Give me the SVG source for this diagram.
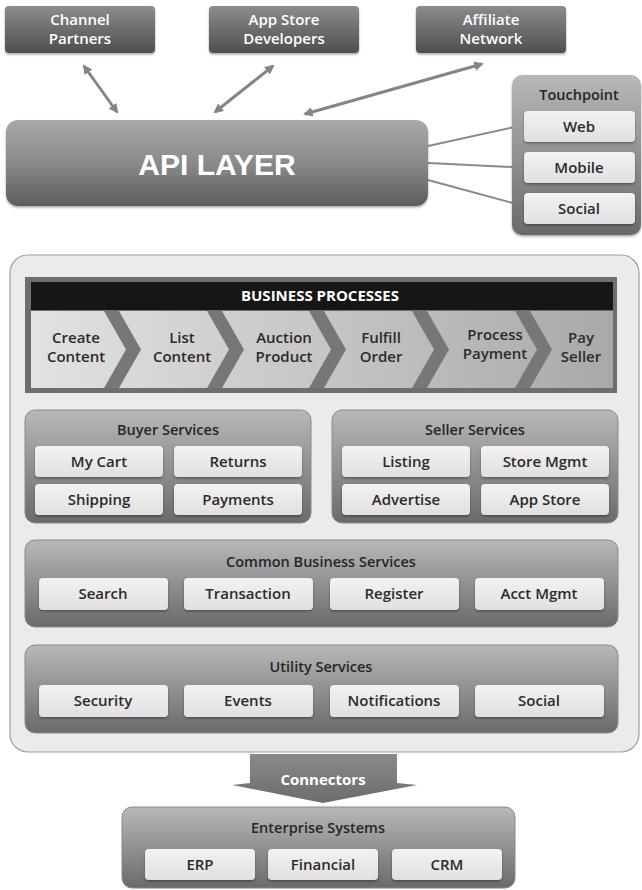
<svg xmlns="http://www.w3.org/2000/svg" width="642" height="890" viewBox="0 0 642 890">
<defs>
<style>
text{font-family:"Open Sans","Liberation Sans",sans-serif;font-weight:600;text-anchor:middle}
.wt{fill:#ffffff;font-size:15px}
.dk{fill:#2b2b2b;font-size:15px}
.ttl{fill:#262626;font-size:14.5px}
.pr{fill:#2b2b2b;font-size:15px}
.top{fill:url(#gTop)}
.panel{fill:url(#gPanel);stroke:#8a8a8a;stroke-width:1}
.item{fill:url(#gItem);filter:url(#sh)}
.band{fill:#777777}
.arr{stroke:#858585;stroke-width:3;fill:none;marker-start:url(#ah);marker-end:url(#ah)}
.ln{stroke:#8a8a8a;stroke-width:2;fill:none}
</style>
<linearGradient id="gTop" x1="0" y1="0" x2="0" y2="1"><stop offset="0" stop-color="#8c8c8c"/><stop offset="1" stop-color="#4e4e4e"/></linearGradient>
<linearGradient id="gApi" x1="0" y1="0" x2="0" y2="1"><stop offset="0" stop-color="#a9a9a9"/><stop offset="0.5" stop-color="#8a8a8a"/><stop offset="1" stop-color="#5c5c5c"/></linearGradient>
<linearGradient id="gPanel" x1="0" y1="0" x2="0" y2="1"><stop offset="0" stop-color="#b8b8b8"/><stop offset="1" stop-color="#6a6a6a"/></linearGradient>
<linearGradient id="gItem" x1="0" y1="0" x2="0" y2="1"><stop offset="0" stop-color="#f2f2f2"/><stop offset="1" stop-color="#e0e0e0"/></linearGradient>
<linearGradient id="gRow" x1="0" y1="0" x2="1" y2="0"><stop offset="0" stop-color="#e2e2e2"/><stop offset="1" stop-color="#a9a9a9"/></linearGradient>
<linearGradient id="gConn" x1="0" y1="0" x2="0" y2="1"><stop offset="0" stop-color="#8a8a8a"/><stop offset="1" stop-color="#6c6c6c"/></linearGradient>
<filter id="sh" x="-10%" y="-10%" width="120%" height="140%"><feDropShadow dx="0" dy="1.5" stdDeviation="1" flood-color="#000" flood-opacity="0.35"/></filter>
<marker id="ah" viewBox="0 0 10 10" refX="8" refY="5" markerWidth="3.2" markerHeight="3.2" orient="auto-start-reverse"><path d="M0,0 L10,5 L0,10 Z" fill="#858585"/></marker>
</defs>
<rect width="642" height="890" fill="#ffffff"/>

<g id="connectors">
<line class="arr" x1="84" y1="66" x2="117" y2="112"/>
<line class="arr" x1="273" y1="66" x2="215" y2="112"/>
<line class="arr" x1="482" y1="64" x2="305" y2="114"/>
<line class="ln" x1="428" y1="146" x2="524" y2="125"/>
<line class="ln" x1="428" y1="163" x2="512" y2="167"/>
<line class="ln" x1="428" y1="180" x2="524" y2="206"/>
</g>

<g id="channel-partners"><rect class="top" x="5" y="6" width="150" height="47" rx="4" filter="url(#sh)"/><text class="wt" x="80" y="25">Channel</text><text class="wt" x="80" y="44">Partners</text></g>
<g id="app-store-developers"><rect class="top" x="209" y="6" width="150" height="47" rx="4" filter="url(#sh)"/><text class="wt" x="284" y="25">App Store</text><text class="wt" x="284" y="44">Developers</text></g>
<g id="affiliate-network"><rect class="top" x="416" y="6" width="150" height="47" rx="4" filter="url(#sh)"/><text class="wt" x="491" y="25">Affiliate</text><text class="wt" x="491" y="44">Network</text></g>

<g id="api-layer"><rect x="6" y="120" width="422" height="86" rx="12" fill="url(#gApi)" filter="url(#sh)"/><text x="217" y="175" style="font-family:'Liberation Sans',Arial,sans-serif;font-weight:700;font-size:30px;fill:#ffffff">API LAYER</text></g>

<g id="touchpoint">
<rect x="512" y="75" width="129" height="160" rx="10" fill="url(#gPanel)" filter="url(#sh)"/>
<text class="ttl" x="579" y="100">Touchpoint</text>
<rect class="item" x="524" y="111" width="111" height="31" rx="4"/><text class="dk" x="579" y="132">Web</text>
<rect class="item" x="524" y="152" width="111" height="31" rx="4"/><text class="dk" x="579" y="173">Mobile</text>
<rect class="item" x="524" y="193" width="111" height="31" rx="4"/><text class="dk" x="579" y="214">Social</text>
</g>

<g id="platform">
<rect x="10" y="255" width="629" height="497" rx="18" fill="#ebebeb" stroke="#a0a0a0" stroke-width="1.2"/>
</g>

<g id="business-processes">
<rect x="25" y="277" width="592" height="116" fill="#6e6e6e"/>
<rect x="31" y="282" width="582" height="28" fill="#161616"/>
<text x="320" y="301" style="fill:#ffffff;font-weight:700;font-size:15px">BUSINESS PROCESSES</text>
<rect x="31" y="311" width="582" height="77" fill="url(#gRow)"/>
<polygon class="band" points="104,311 119,311 141,349.5 119,388 104,388 126,349.5"/>
<polygon class="band" points="207,311 222,311 244,349.5 222,388 207,388 229,349.5"/>
<polygon class="band" points="309,311 324,311 346,349.5 324,388 309,388 331,349.5"/>
<polygon class="band" points="412,311 427,311 449,349.5 427,388 412,388 434,349.5"/>
<polygon class="band" points="515,311 530,311 552,349.5 530,388 515,388 537,349.5"/>
<text class="pr" x="76" y="343">Create</text><text class="pr" x="76" y="362">Content</text>
<text class="pr" x="182" y="343">List</text><text class="pr" x="182" y="362">Content</text>
<text class="pr" x="284" y="343">Auction</text><text class="pr" x="284" y="362">Product</text>
<text class="pr" x="381" y="343">Fulfill</text><text class="pr" x="381" y="362">Order</text>
<text class="pr" x="495" y="340">Process</text><text class="pr" x="495" y="359">Payment</text>
<text class="pr" x="581" y="343">Pay</text><text class="pr" x="581" y="362">Seller</text>
</g>

<g id="buyer-services">
<rect class="panel" x="25" y="410" width="286" height="113" rx="10"/>
<text class="ttl" x="168" y="435">Buyer Services</text>
<rect class="item" x="35" y="446" width="128" height="31" rx="4"/><text class="dk" x="99" y="467">My Cart</text>
<rect class="item" x="174" y="446" width="128" height="31" rx="4"/><text class="dk" x="238" y="467">Returns</text>
<rect class="item" x="35" y="484" width="128" height="31" rx="4"/><text class="dk" x="99" y="505">Shipping</text>
<rect class="item" x="174" y="484" width="128" height="31" rx="4"/><text class="dk" x="238" y="505">Payments</text>
</g>

<g id="seller-services">
<rect class="panel" x="332" y="410" width="286" height="113" rx="10"/>
<text class="ttl" x="475" y="435">Seller Services</text>
<rect class="item" x="342" y="446" width="128" height="31" rx="4"/><text class="dk" x="406" y="467">Listing</text>
<rect class="item" x="481" y="446" width="128" height="31" rx="4"/><text class="dk" x="545" y="467">Store Mgmt</text>
<rect class="item" x="342" y="484" width="128" height="31" rx="4"/><text class="dk" x="406" y="505">Advertise</text>
<rect class="item" x="481" y="484" width="128" height="31" rx="4"/><text class="dk" x="545" y="505">App Store</text>
</g>

<g id="common-business-services">
<rect class="panel" x="25" y="540" width="593" height="87" rx="10"/>
<text class="ttl" x="321" y="567">Common Business Services</text>
<rect class="item" x="39" y="578" width="129" height="32" rx="4"/><text class="dk" x="103" y="599">Search</text>
<rect class="item" x="184" y="578" width="129" height="32" rx="4"/><text class="dk" x="248" y="599">Transaction</text>
<rect class="item" x="330" y="578" width="129" height="32" rx="4"/><text class="dk" x="394" y="599">Register</text>
<rect class="item" x="475" y="578" width="129" height="32" rx="4"/><text class="dk" x="539" y="599">Acct Mgmt</text>
</g>

<g id="utility-services">
<rect class="panel" x="25" y="645" width="593" height="88" rx="10"/>
<text class="ttl" x="321" y="672">Utility Services</text>
<rect class="item" x="39" y="685" width="129" height="32" rx="4"/><text class="dk" x="103" y="706">Security</text>
<rect class="item" x="184" y="685" width="129" height="32" rx="4"/><text class="dk" x="248" y="706">Events</text>
<rect class="item" x="330" y="685" width="129" height="32" rx="4"/><text class="dk" x="394" y="706">Notifications</text>
<rect class="item" x="475" y="685" width="129" height="32" rx="4"/><text class="dk" x="539" y="706">Social</text>
</g>

<g id="connectors-arrow">
<path d="M250,754 H397 V783 L417,785 L323,803 L232,785 L250,783 Z" fill="url(#gConn)"/>
<text x="323" y="785" style="fill:#ffffff;font-weight:700;font-size:15px">Connectors</text>
</g>

<g id="enterprise-systems">
<rect class="panel" x="122" y="807" width="393" height="81" rx="10"/>
<text class="ttl" x="318" y="833">Enterprise Systems</text>
<rect class="item" x="145" y="849" width="110" height="31" rx="4"/><text class="dk" x="200" y="870">ERP</text>
<rect class="item" x="268" y="849" width="110" height="31" rx="4"/><text class="dk" x="323" y="870">Financial</text>
<rect class="item" x="392" y="849" width="110" height="31" rx="4"/><text class="dk" x="447" y="870">CRM</text>
</g>
</svg>
